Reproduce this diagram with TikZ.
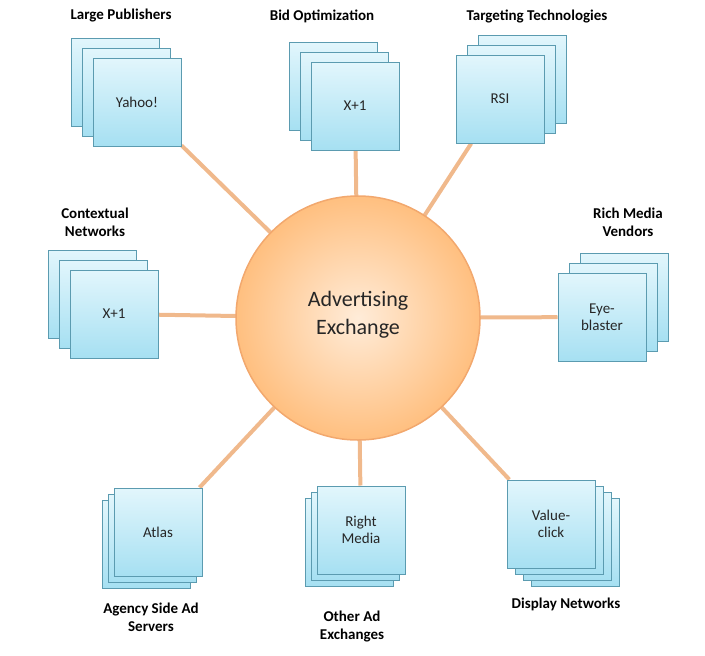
\documentclass[tikz,border=0pt]{standalone}
\usepackage{fontspec}
\setmainfont{Carlito}
\usetikzlibrary{backgrounds}
\definecolor{boxline}{HTML}{5B9BB0}
\definecolor{boxtop}{HTML}{E2F6FC}
\definecolor{boxbot}{HTML}{A6E0F2}
\definecolor{orline}{HTML}{F2A86E}
\definecolor{cline}{HTML}{F0B98C}
\tikzset{
 card/.style={draw=boxline,line width=1pt,top color=boxtop,bottom color=boxbot,minimum width=88pt,minimum height=88pt,inner sep=0pt,font=\fontsize{15}{17}\selectfont,align=center,text=black!85},
 lab/.style={font=\bfseries\fontsize{15}{18}\selectfont,align=center},
 link/.style={draw=cline,line width=4pt}
}
\begin{document}
\begin{tikzpicture}[x=1pt,y=-1pt]
\useasboundingbox (0,0) rectangle (705,656);
\node[circle,draw=orline,line width=1.5pt,inner color=orange!15!white,outer color=orange!50!white,minimum size=244pt] (ex) at (358,318) {};
\node[font=\fontsize{22}{28}\selectfont,align=center,text=black!85] at (358,315) {Advertising\\Exchange};
% stacks
\foreach \k in {2,1} {\node[card] at ({137-\k*11},{102-\k*10}) {};}
\node[card] (yahoo) at (137,102) {Yahoo!};
\foreach \k in {2,1} {\node[card] at ({355-\k*11},{106-\k*10}) {};}
\node[card] (bid) at (355,106) {X+1};
\foreach \k in {2,1} {\node[card] at ({500+\k*11},{99-\k*10}) {};}
\node[card] (rsi) at (500,99) {RSI};
\foreach \k in {2,1} {\node[card] at ({114-\k*11},{314-\k*10}) {};}
\node[card] (ctx) at (114,314) {X+1};
\foreach \k in {2,1} {\node[card] at ({602+\k*11},{317-\k*10}) {};}
\node[card] (eye) at (602,317) {Eye-\\blaster};
\foreach \k in {2,1} {\node[card] at ({158-\k*6},{532+\k*6}) {};}
\node[card] (atlas) at (158,532) {Atlas};
\foreach \k in {2,1} {\node[card] at ({361-\k*6},{530+\k*6}) {};}
\node[card] (rm) at (361,530) {Right\\Media};
\foreach \k in {3,2,1} {\node[card] at ({551+\k*8},{524+\k*6}) {};}
\node[card] (vc) at (551,524) {Value-\\click};
% links
\begin{scope}[on background layer]
\foreach \n in {yahoo,bid,rsi,ctx,eye,atlas,rm,vc} \draw[link] (\n) -- (ex.center);
\end{scope}
% labels
\node[lab] at (121,16) {Large Publishers};
\node[lab] at (322,16) {Bid Optimization};
\node[lab] at (537,16) {Targeting Technologies};
\node[lab] at (95,222) {Contextual\\Networks};
\node[lab] at (628,222) {Rich Media\\Vendors};
\node[lab] at (151,617) {Agency Side Ad\\Servers};
\node[lab] at (352,627) {Other Ad\\Exchanges};
\node[lab] at (566,604) {Display Networks};
\end{tikzpicture}
\end{document}
